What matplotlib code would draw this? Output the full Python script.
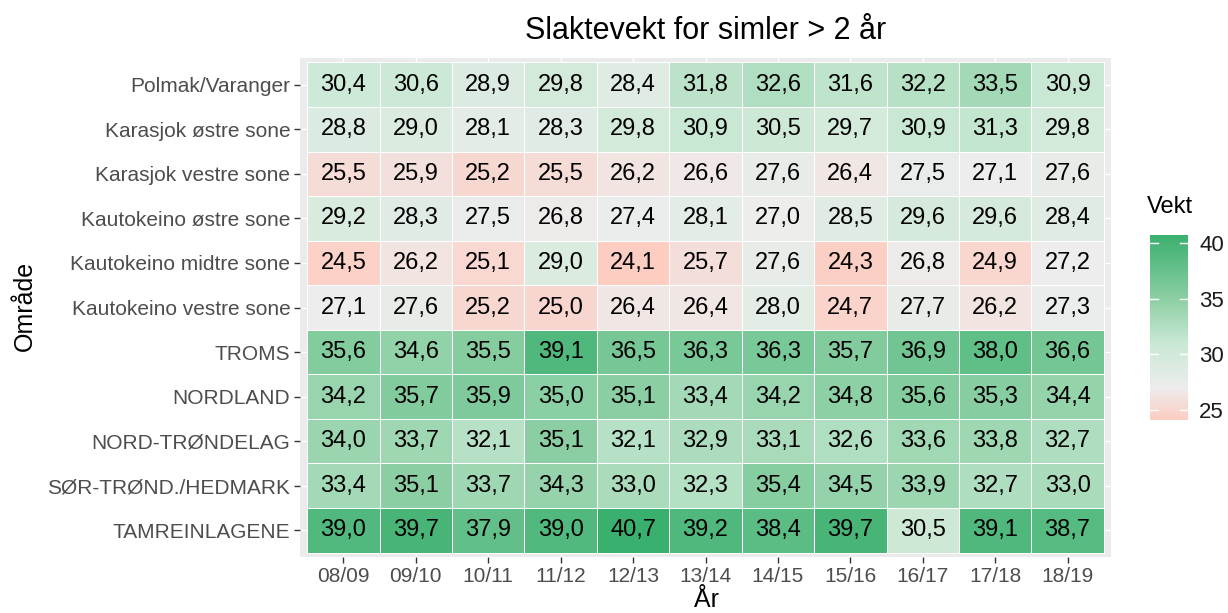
import numpy as np
import matplotlib.pyplot as plt
from matplotlib.colors import LinearSegmentedColormap, Normalize

plt.rcParams["font.family"] = ["Liberation Sans", "DejaVu Sans"]

# ── Data ─────────────────────────────────────────────────────────────────────
aar = ["08/09", "09/10", "10/11", "11/12", "12/13", "13/14",
       "14/15", "15/16", "16/17", "17/18", "18/19"]

omraader = ["Polmak/Varanger", "Karasjok østre sone", "Karasjok vestre sone",
            "Kautokeino østre sone", "Kautokeino midtre sone",
            "Kautokeino vestre sone", "TROMS", "NORDLAND",
            "NORD-TRØNDELAG", "SØR-TRØND./HEDMARK", "TAMREINLAGENE"]

polmak     = [30.4, 30.6, 28.9, 29.8, 28.4, 31.8, 32.6, 31.6, 32.2, 33.5, 30.9]
karasjok_o = [28.8, 29.0, 28.1, 28.3, 29.8, 30.9, 30.5, 29.7, 30.9, 31.3, 29.8]
karasjok_v = [25.5, 25.9, 25.2, 25.5, 26.2, 26.6, 27.6, 26.4, 27.5, 27.1, 27.6]
kautok_o   = [29.2, 28.3, 27.5, 26.8, 27.4, 28.1, 27.0, 28.5, 29.6, 29.6, 28.4]
kautok_m   = [24.5, 26.2, 25.1, 29.0, 24.1, 25.7, 27.6, 24.3, 26.8, 24.9, 27.2]
kautok_v   = [27.1, 27.6, 25.2, 25.0, 26.4, 26.4, 28.0, 24.7, 27.7, 26.2, 27.3]
troms      = [35.6, 34.6, 35.5, 39.1, 36.5, 36.3, 36.3, 35.7, 36.9, 38.0, 36.6]
nordland   = [34.2, 35.7, 35.9, 35.0, 35.1, 33.4, 34.2, 34.8, 35.6, 35.3, 34.4]
nord_trond = [34.0, 33.7, 32.1, 35.1, 32.1, 32.9, 33.1, 32.6, 33.6, 33.8, 32.7]
sor_trond  = [33.4, 35.1, 33.7, 34.3, 33.0, 32.3, 35.4, 34.5, 33.9, 32.7, 33.0]
tamrein    = [39.0, 39.7, 37.9, 39.0, 40.7, 39.2, 38.4, 39.7, 30.5, 39.1, 38.7]

vekt = np.array([polmak, karasjok_o, karasjok_v, kautok_o, kautok_m, kautok_v,
                 troms, nordland, nord_trond, sor_trond, tamrein])

# ── Fargeskala (rosa -> grå -> grønn) ─────────────────────────────────────────
vmin, vmax = vekt.min(), vekt.max()
def pos(v):
    return (v - vmin) / (vmax - vmin)

cmap = LinearSegmentedColormap.from_list("vekt", [
    (0.0, "#FDCDC2"),
    (pos(27.0), "#EDEDED"),
    (pos(31.0), "#C8E8D3"),
    (pos(35.0), "#8CCFA4"),
    (1.0, "#3AB06E"),
])
norm = Normalize(vmin=vmin, vmax=vmax)

# ── Figur ────────────────────────────────────────────────────────────────────
W, H = 1228, 613
fig = plt.figure(figsize=(W / 100, H / 100), dpi=100)
ax = fig.add_axes([300 / W, 1 - 557 / H, 811 / W, 499 / H])

ax.set_facecolor("#EBEBEB")
ax.set_axisbelow(True)
ax.grid(True, color="white", linewidth=1.0)

nr, nc = vekt.shape
xe = np.arange(nc + 1) - 0.5
ye = np.arange(nr + 1) - 0.5
ax.pcolormesh(xe, ye, vekt, cmap=cmap, norm=norm,
              edgecolors="white", linewidth=0.5, zorder=2)

for i in range(nr):
    for j in range(nc):
        ax.text(j, i, f"{vekt[i, j]:.1f}".replace(".", ","),
                ha="center", va="center", fontsize=17, color="black", zorder=3)

ax.set_xlim(-0.6, nc - 0.4)
ax.set_ylim(nr - 0.4, -0.6)
ax.set_xticks(range(nc))
ax.set_xticklabels(aar)
ax.set_yticks(range(nr))
ax.set_yticklabels(omraader)
ax.tick_params(axis="both", length=4, width=1, color="#333333",
               labelcolor="#4D4D4D", labelsize=15, pad=3)
for s in ax.spines.values():
    s.set_visible(False)

fig.text(706 / W, 1 - 600 / H, "År", fontsize=18, ha="center", va="center")
fig.text(25 / W, 1 - 306 / H, "Område", fontsize=18, rotation=90,
         ha="center", va="center")
fig.text(706 / W, 1 - 31 / H, "Slaktevekt for simler > 2 år", fontsize=22,
         ha="center", va="center")

# ── Fargeforklaring ──────────────────────────────────────────────────────────
cax = fig.add_axes([1150 / W, 1 - 420 / H, 38 / W, 185 / H])
grad = np.linspace(vmin, vmax, 256).reshape(-1, 1)
cax.imshow(grad, cmap=cmap, norm=norm, aspect="auto", origin="lower",
           extent=[0, 1, vmin, vmax])
for v in [25, 30, 35, 40]:
    cax.plot([0, 0.2], [v, v], color="white", lw=1)
    cax.plot([0.8, 1], [v, v], color="white", lw=1)
cax.set_xlim(0, 1)
cax.set_ylim(vmin, vmax)
cax.set_xticks([])
cax.yaxis.tick_right()
cax.set_yticks([25, 30, 35, 40])
cax.tick_params(axis="y", length=0, labelsize=16, labelcolor="#1A1A1A", pad=8)
for s in cax.spines.values():
    s.set_visible(False)
fig.text(1147 / W, 1 - 207 / H, "Vekt", fontsize=17, ha="left", va="center")

fig.savefig("out.png", dpi=100)
